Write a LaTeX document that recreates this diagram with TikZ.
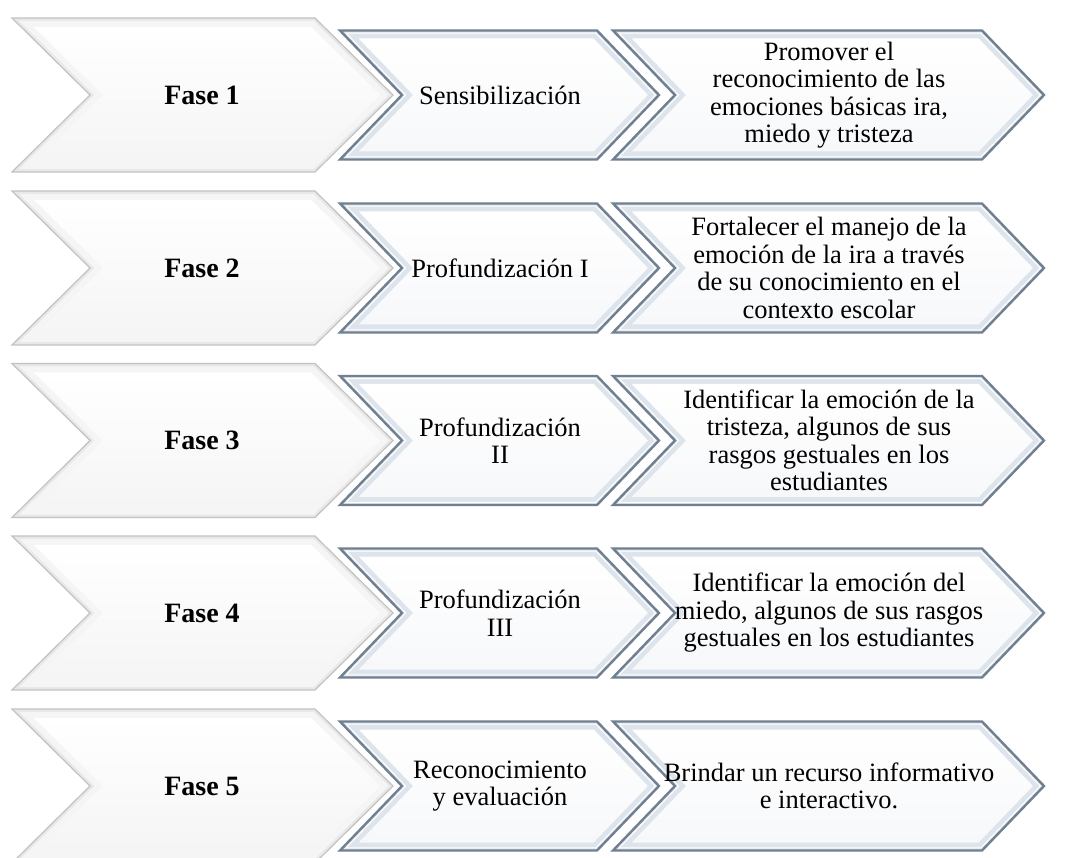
\documentclass[tikz,border=0pt]{standalone}
\usepackage{fontspec}
\setmainfont{Liberation Serif}
\begin{document}
% chevron outline: x0, x1 (top-right corner), centre y, half height, point depth, path options
\newcommand\chevshape[6]{%
  \path[#6] (#1,#3-#4) -- (#2,#3-#4) -- (#2+#5,#3) -- (#2,#3+#4) -- (#1,#3+#4) -- (#1+#5,#3) -- cycle;}
% same chevron shrunk inwards by a distance t (argument 6)
\newcommand\chevinset[7]{%
  \pgfmathsetmacro\chh{#4-#6}%
  \pgfmathsetmacro\chd{#5*(#4-#6)/#4}%
  \pgfmathsetmacro\chs{#6*sqrt(#4*#4+#5*#5)/#4}%
  \pgfmathsetmacro\cxa{#1+\chs+#6*#5/#4}%
  \pgfmathsetmacro\cxb{#2-\chs+#6*#5/#4}%
  \chevshape{\cxa}{\cxb}{#3}{\chh}{\chd}{#7}}
\definecolor{edgeblue}{HTML}{708090}
\definecolor{bandblue}{HTML}{DDE4EB}
\definecolor{innerwhite}{HTML}{F7F8FA}
% large phase chevron
\newcommand\bigchev[1]{%
  \chevshape{12}{315}{#1}{77}{78}{fill=black!9, draw=black!24, line width=1.2pt}%
  \chevinset{12}{315}{#1}{77}{78}{3}{fill=black!4}%
  \chevinset{12}{315}{#1}{77}{78}{9}{top color=white, bottom color=black!4}}
% framed chevron of the second and third column
\newcommand\smallchev[3]{%
  \chevshape{#1}{#2}{#3}{64.5}{62}{fill=bandblue, draw=edgeblue, line width=2.4pt}%
  \chevinset{#1}{#2}{#3}{64.5}{62}{2.6}{draw=white, line width=1pt}%
  \chevinset{#1}{#2}{#3}{64.5}{62}{8}{top color=white, bottom color=innerwhite}}
\begin{tikzpicture}[x=1pt, y=-1pt,
    phase/.style={font=\fontsize{28}{30}\selectfont\bfseries, align=center},
    stage/.style={font=\fontsize{26.5}{27.5}\selectfont, align=center},
    aim/.style={font=\fontsize{26.5}{27.5}\selectfont, align=center}]
  \useasboundingbox (0,0) rectangle (1068,858);
  \foreach \c in {95,268,440.5,613,786} {
    \bigchev{\c}
    \smallchev{340}{597}{\c}
    \smallchev{613}{982}{\c}
  }
  % row 1
  \node[phase] (f1) at (202,95) {Fase 1};
  \node[stage] (s1) at (500,95) {Sensibilización};
  \node[aim]   (a1) at (829,95) {Promover el\\reconocimiento de las\\emociones básicas ira,\\miedo y tristeza};
  % row 2
  \node[phase] (f2) at (202,268) {Fase 2};
  \node[stage] (s2) at (500,268) {Profundización I};
  \node[aim]   (a2) at (829,268) {Fortalecer el manejo de la\\emoción de la ira a través\\de su conocimiento en el\\contexto escolar};
  % row 3
  \node[phase] (f3) at (202,440.5) {Fase 3};
  \node[stage] (s3) at (500,440.5) {Profundización\\II};
  \node[aim]   (a3) at (829,440.5) {Identificar la emoción de la\\tristeza, algunos de sus\\rasgos gestuales en los\\estudiantes};
  % row 4
  \node[phase] (f4) at (202,613) {Fase 4};
  \node[stage] (s4) at (500,613) {Profundización\\III};
  \node[aim]   (a4) at (829,613) {Identificar la emoción del\\miedo, algunos de sus rasgos\\gestuales en los estudiantes};
  % row 5
  \node[phase] (f5) at (202,786) {Fase 5};
  \node[stage] (s5) at (500,786) {Reconocimiento\\y evaluación};
  \node[aim]   (a5) at (829,786) {Brindar un recurso informativo\\e interactivo.};
\end{tikzpicture}
\end{document}
